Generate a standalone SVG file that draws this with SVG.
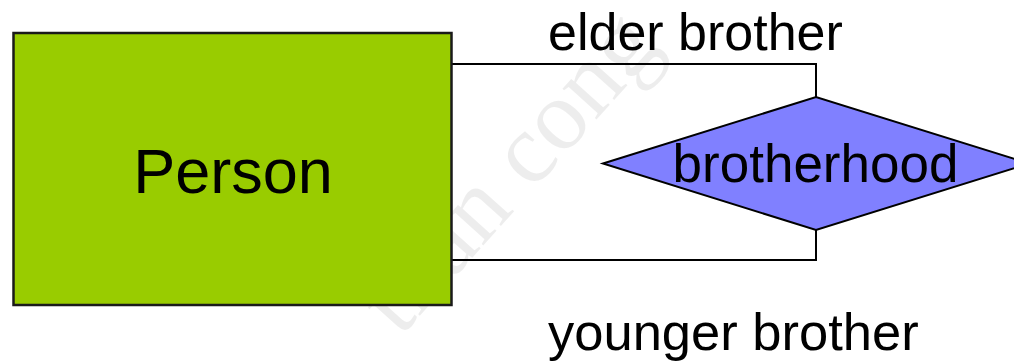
<svg xmlns="http://www.w3.org/2000/svg" width="1014" height="364" viewBox="0 0 1014 364">
<style>
  .lbl { font-family: "Liberation Sans", Arial, sans-serif; fill: #000; }
  .conn { fill: none; stroke: #000; stroke-width: 2; }
  .wm { font-family: "Liberation Serif", "Times New Roman", serif; fill: #000; fill-opacity: 0.07; }
</style>
<rect width="1014" height="364" fill="#fff"/>
<text class="wm" x="400" y="338" font-size="100" transform="rotate(-48 400 338)">than cong</text>
<g id="connectors">
  <polyline class="conn" points="452,64 816,64 816,97"/>
  <polyline class="conn" points="452,260 816,260 816,230"/>
</g>
<g id="person">
  <rect x="13.5" y="33" width="438" height="272" fill="#99cc00" stroke="#1a1a1a" stroke-width="2.5"/>
  <text class="lbl" x="233" y="193" font-size="63" text-anchor="middle">Person</text>
</g>
<g id="brotherhood">
  <polygon points="603,163.5 816,97 1029,163.5 816,230" fill="#8080ff" stroke="#000" stroke-width="2"/>
  <text class="lbl" x="815.5" y="182" font-size="53" text-anchor="middle">brotherhood</text>
</g>
<g id="labels">
  <text class="lbl" x="548" y="50" font-size="52">elder brother</text>
  <text class="lbl" x="548" y="350" font-size="52.5">younger brother</text>
</g>
</svg>
